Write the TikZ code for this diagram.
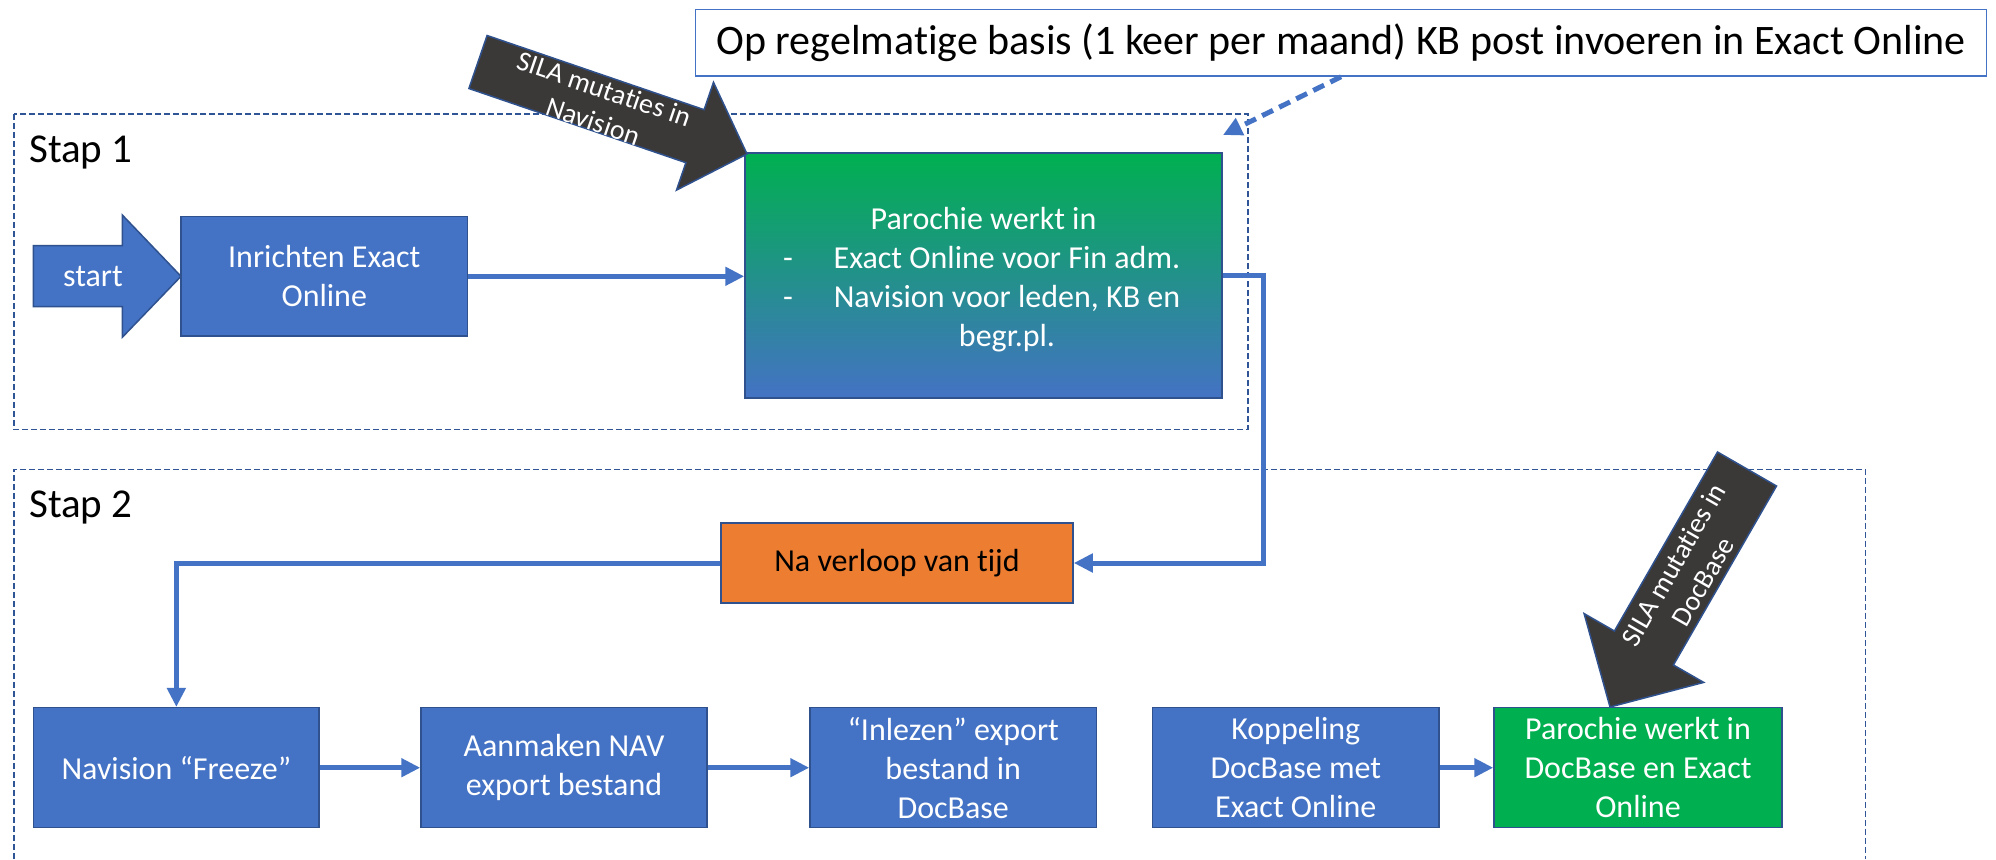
\documentclass[tikz,border=0pt]{standalone}
\usepackage{fontspec}
\setmainfont{Carlito}[Ligatures={NoCommon,NoContextual}]
\usetikzlibrary{arrows.meta,calc}
\definecolor{oblue}{HTML}{4472C4}
\definecolor{oborder}{HTML}{2F528F}
\definecolor{ogreen}{HTML}{00B050}
\definecolor{oorange}{HTML}{ED7D31}
\definecolor{odark}{HTML}{3B3838}
\definecolor{odash}{HTML}{2F5597}
\begin{document}
\begin{tikzpicture}[x=1pt,y=-1pt,
  box/.style={draw=oborder, line width=1.5pt, fill=oblue, text=white, align=center,
    font=\fontsize{32}{39}\selectfont, inner sep=0pt, minimum width=286pt, minimum height=120pt},
  conn/.style={draw=oblue, line width=5pt, -{Triangle[length=19pt,width=18pt]}},
  container/.style={draw=odash, line width=1.5pt, dash pattern=on 6pt off 3pt},
  steplabel/.style={font=\fontsize{41}{49}\selectfont, anchor=base west, inner sep=0pt},
  bigarrow/.style={fill=odark, draw=oborder, line width=1.5pt},
  arrowtext/.style={text=white, align=center, font=\fontsize{28}{34}\selectfont, inner sep=0pt}
]
\useasboundingbox[fill=white] (0,0) rectangle (1996,859);

% containers
\draw[container] (14,114) rectangle (1248,429.6);
\draw[container] (14,859) -- (14,469.3) -- (1865.7,469.3) -- (1865.7,859);
\node[steplabel] (s1) at (29,162) {Stap 1};
\node[steplabel] (s2) at (29,517) {Stap 2};

% note box
\node[draw=oblue, line width=1.5pt, fill=white, minimum width=1290.8pt, minimum height=66.7pt,
  inner sep=0pt, font=\fontsize{42}{50}\selectfont] (note) at (1341.1,42.65)
  {Op regelmatige basis (1 keer per maand) KB post invoeren in Exact Online};

% start arrow
\draw[fill=oblue, draw=oborder, line width=1.5pt] (33.3,245.7) -- (122.3,245.7) -- (122.3,215)
  -- (181,276.3) -- (122.3,337.3) -- (122.3,306.7) -- (33.3,306.7) -- cycle;
\node[text=white, font=\fontsize{32}{39}\selectfont, inner sep=0pt, anchor=base] (start) at (93,286.7) {start};

% boxes
\node[box, minimum width=286.7pt, minimum height=119.3pt] (inr) at (324.3,276.3) {Inrichten Exact\\Online};
\node[box, top color=ogreen, bottom color=oblue, align=left, minimum width=477pt, minimum height=245pt] (park) at (983.5,275.5)
  {\rule{0pt}{30pt}\makebox[401pt][c]{Parochie werkt in}\\
   \makebox[47pt][l]{-}\makebox[354pt][c]{Exact Online voor Fin adm.}\\
   \makebox[47pt][l]{-}\makebox[354pt][c]{Navision voor leden, KB en}\\
   \makebox[47pt][l]{}\makebox[354pt][c]{begr.pl.}};
\node[box, fill=oorange, text=black, minimum width=352pt, minimum height=80pt] (nav) at (897,563) {Na verloop van tijd};
\node[box, minimum width=285.3pt] (freeze) at (176.35,767.7) {Navision “Freeze”};
\node[box] (aan) at (564,767.7) {Aanmaken NAV\\export bestand};
\node[box, minimum width=286.5pt] (inl) at (953.25,767.7) {“Inlezen” export\\bestand in\\DocBase};
\node[box, minimum width=286.4pt] (kop) at (1295.8,767.7) {Koppeling\\DocBase met\\Exact Online};
\node[box, fill=ogreen, minimum width=288pt] (par2) at (1638,767.7) {Parochie werkt in\\DocBase en Exact\\Online};

% connectors
\draw[conn] (inr.east) -- (inr.east -| park.west);
\draw[conn] (park.east) -- ++(41,0) |- (nav.east);
\draw[conn] (nav.west) -| (freeze.north);
\draw[conn] (freeze) -- (aan);
\draw[conn] (aan) -- (inl);
\draw[conn] (kop) -- (par2);
\coordinate (tipd) at (1223,135);
\draw[conn, dash pattern=on 12pt off 7pt] (note.south) -- (tipd);

% big dark arrows
\draw[bigarrow] (468.9,88.5) -- (487.1,35.5) -- (704.1,109.7) -- (713.5,82.3) -- (747,154)
  -- (676.5,190.1) -- (685.9,162.7) -- cycle;
\node[arrowtext, rotate=-18.9] (silanav) at (599,105) {SILA mut\kern0pt aties in\\Navision};
\draw[bigarrow] (1776.5,486) -- (1717.5,452) -- (1614.4,631) -- (1584.1,613.6) -- (1610,707)
  -- (1703.7,682.4) -- (1673.4,665) -- cycle;
\node[arrowtext, rotate=60.1] (siladoc) at (1688,573) {SILA mut\kern0pt aties in\\DocBase};
\end{tikzpicture}
\end{document}
